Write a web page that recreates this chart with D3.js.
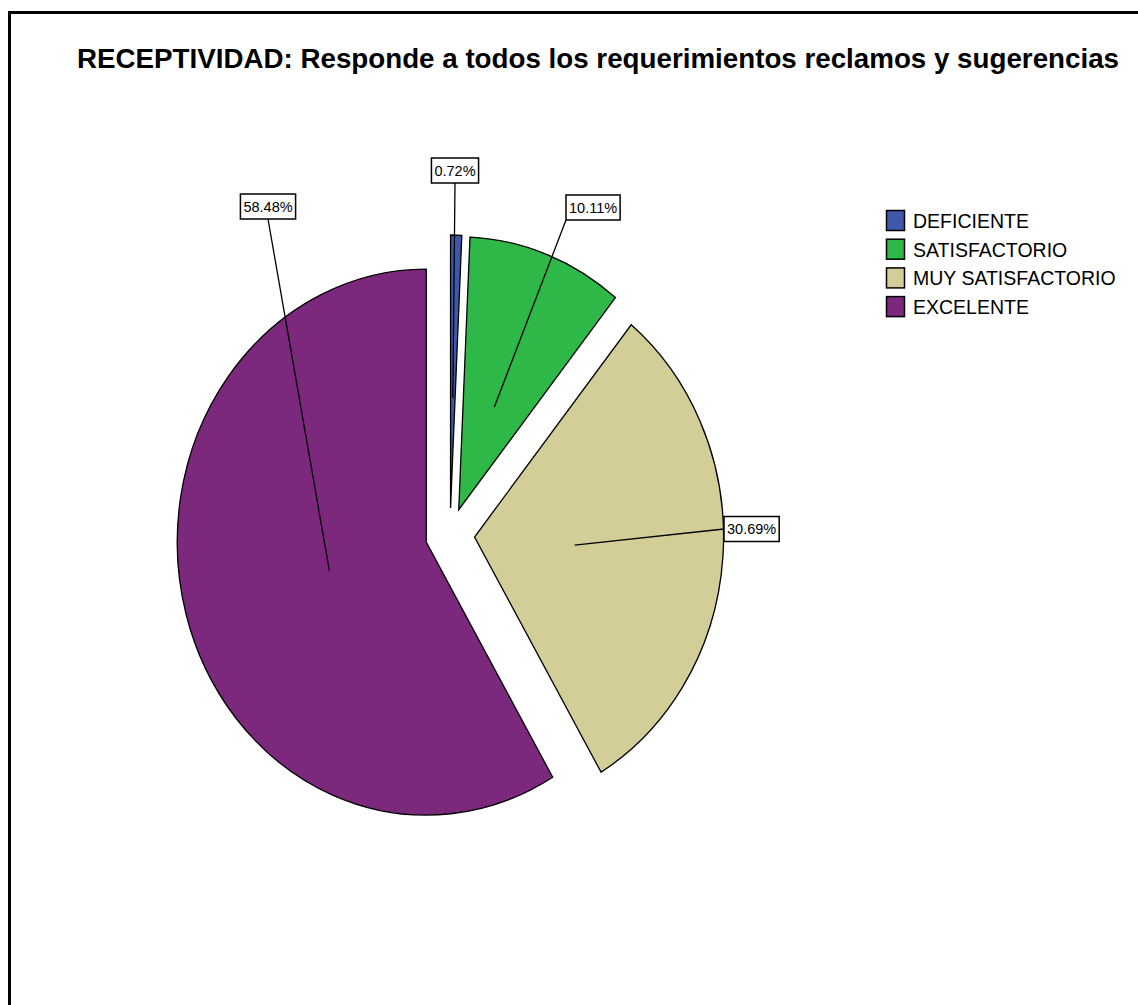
<!DOCTYPE html>
<html>
<head>
<meta charset="utf-8">
<script src="https://cdn.jsdelivr.net/npm/d3@7/dist/d3.min.js"></script>
<style>
  html, body { margin: 0; padding: 0; background: #fff; }
  svg { display: block; font-family: "Liberation Sans", Arial, sans-serif; }
</style>
</head>
<body>
<svg id="chart" width="1138" height="1005"></svg>
<script>
// Response categories and their share of answers (%)
const categories = ["DEFICIENTE", "SATISFACTORIO", "MUY SATISFACTORIO", "EXCELENTE"];
const percentages = [0.72, 10.11, 30.69, 58.48];
const percentLabels = ["0.72%", "10.11%", "30.69%", "58.48%"];
const colors = ["#3e58ac", "#2eb848", "#d3ce97", "#7c287d"];

const titleText = "RECEPTIVIDAD: Responde a todos los requerimientos reclamos y sugerencias";

// Layout
const W = 1138, H = 1005;
const cx = 450, cy = 535;          // pie centre
const ry = 273, rx = 249;          // vertical / horizontal radius (drawn as an ellipse)
const explode = 27;                // distance each slice is pulled out
const leaderR = 110;               // where leader lines meet the slice
// label box anchor (point where leader meets box) and which side of the box it touches
const labelLayout = [
  { x: 455, y: 183, side: "bottom" },
  { x: 566, y: 220, side: "bottom-left" },
  { x: 724, y: 529, side: "left" },
  { x: 268, y: 219, side: "bottom" }
];

const svg = d3.select("#chart");

// outer frame
svg.append("rect")
  .attr("x", 9.5).attr("y", 12.5)
  .attr("width", W + 20).attr("height", H + 20)
  .attr("fill", "none").attr("stroke", "#000").attr("stroke-width", 3);

// title
svg.append("text")
  .attr("x", 77).attr("y", 68)
  .attr("font-size", 27).attr("font-weight", "bold")
  .attr("fill", "#000")
  .attr("textLength", 1042).attr("lengthAdjust", "spacingAndGlyphs")
  .text(titleText);

// pie
const data = categories.map((c, i) => ({ name: c, value: percentages[i], label: percentLabels[i], color: colors[i] }));
const pie = d3.pie().sort(null).value(d => d.value).startAngle(0).endAngle(2 * Math.PI);
const arcs = pie(data);
const arc = d3.arc().innerRadius(0).outerRadius(ry);
const sx = rx / ry;

const g = svg.append("g").attr("transform", `translate(${cx},${cy}) scale(${sx},1)`);

function offsetOf(a) {
  const mid = (a.startAngle + a.endAngle) / 2;
  return [explode * Math.sin(mid), -explode * Math.cos(mid)];
}

g.selectAll("path.slice")
  .data(arcs)
  .join("path")
  .attr("class", "slice")
  .attr("transform", d => { const o = offsetOf(d); return `translate(${o[0]},${o[1]})`; })
  .attr("d", arc)
  .attr("fill", d => d.data.color)
  .attr("stroke", "#000")
  .attr("stroke-width", 1.3)
  .attr("stroke-linejoin", "miter")
  .attr("vector-effect", "non-scaling-stroke");

// leader lines and value boxes
const labelG = svg.append("g");
arcs.forEach((a, i) => {
  const mid = (a.startAngle + a.endAngle) / 2;
  const o = offsetOf(a);
  const px = cx + sx * (o[0] + leaderR * Math.sin(mid));
  const py = cy + (o[1] - leaderR * Math.cos(mid));
  const L = labelLayout[i];

  labelG.append("line")
    .attr("x1", px).attr("y1", py).attr("x2", L.x).attr("y2", L.y)
    .attr("stroke", "#000").attr("stroke-width", 1.3);

  const t = labelG.append("text")
    .attr("font-size", 14.5)
    .attr("fill", "#000")
    .attr("text-anchor", "middle")
    .text(a.data.label);
  const tw = t.node().getComputedTextLength();
  const bw = tw + 6, bh = 25;
  let bx, by;
  if (L.side === "bottom") { bx = L.x - bw / 2; by = L.y - bh; }
  else if (L.side === "bottom-left") { bx = L.x; by = L.y - bh; }
  else { bx = L.x; by = L.y - bh / 2; }
  labelG.insert("rect", "text")
    .attr("x", bx).attr("y", by).attr("width", bw).attr("height", bh)
    .attr("fill", "#fff").attr("stroke", "#000").attr("stroke-width", 1.5);
  t.attr("x", bx + bw / 2).attr("y", by + bh / 2 + 5).raise();
});

// legend
const legend = svg.append("g").attr("transform", "translate(886,210)");
const item = legend.selectAll("g")
  .data(data)
  .join("g")
  .attr("transform", (d, i) => `translate(0,${i * 28.7})`);
item.append("rect")
  .attr("x", 0.5).attr("y", 0.5).attr("width", 18).attr("height", 20)
  .attr("fill", d => d.color).attr("stroke", "#000").attr("stroke-width", 1.5);
item.append("text")
  .attr("x", 27).attr("y", 18)
  .attr("font-size", 19.5).attr("fill", "#000")
  .text(d => d.name);
</script>
</body>
</html>
